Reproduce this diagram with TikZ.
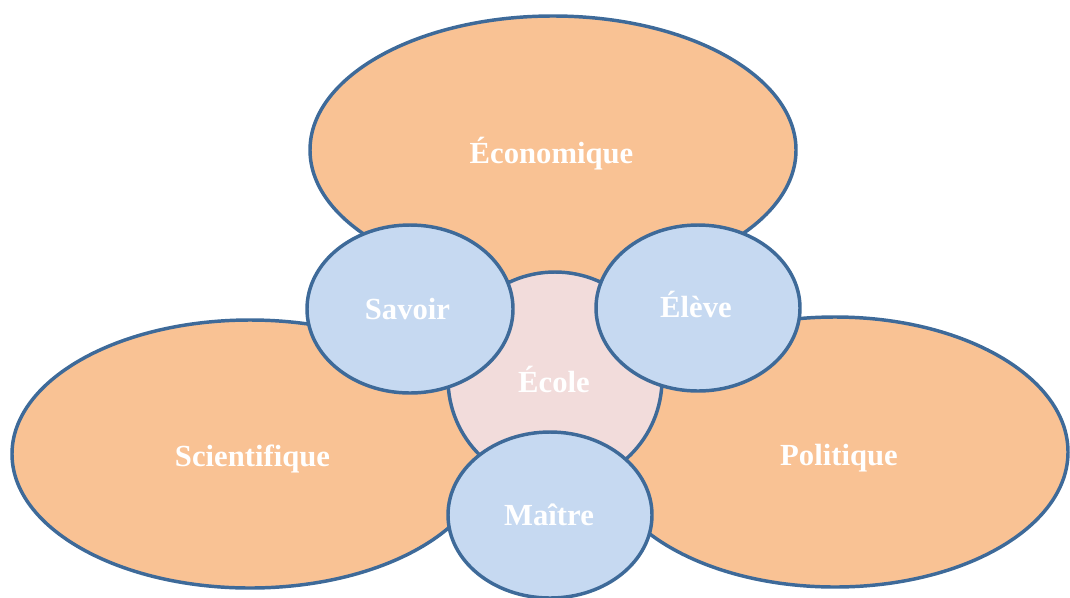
\documentclass[tikz,border=0pt]{standalone}
\usepackage{fontspec}
\setmainfont{Liberation Serif}
\usetikzlibrary{shapes.geometric}
\definecolor{orangefill}{HTML}{F9C294}
\definecolor{bluefill}{HTML}{C6D9F1}
\definecolor{pinkfill}{HTML}{F2DCDB}
\definecolor{edgeblue}{HTML}{3E6A99}
\tikzset{
  blob/.style={ellipse, draw=edgeblue, line width=2.6pt, inner sep=0pt},
  outer/.style={blob, fill=orangefill},
  inner/.style={blob, fill=bluefill},
  core/.style={blob, fill=pinkfill},
  txt/.style={anchor=base, inner sep=0pt, text=white, font=\fontsize{23}{27}\selectfont\bfseries}
}
\begin{document}
\begin{tikzpicture}[x=0.75pt,y=-0.75pt]
\useasboundingbox (0,0) rectangle (1070,597);
\node[outer, minimum width=364.5pt, minimum height=201pt] (eco) at (553,150) {};
\node[outer, minimum width=357pt, minimum height=201pt] (sci) at (250,454) {};
\node[outer, minimum width=349.5pt, minimum height=202.5pt] (pol) at (835,452) {};
\node[core, minimum width=160.5pt, minimum height=160.5pt] (ecole) at (555,379) {};
\node[inner, minimum width=154.5pt, minimum height=126pt] (savoir) at (410,309) {};
\node[inner, minimum width=153pt, minimum height=124.5pt] (eleve) at (698,308) {};
\node[inner, minimum width=153pt, minimum height=124.5pt] (maitre) at (550,515) {};
\node[txt] (teco) at (551.5,163) {Économique};
\node[txt] (tsci) at (252.5,466) {Scientifique};
\node[txt] (tpol) at (839,465) {Politique};
\node[txt] (tecole) at (554,392) {École};
\node[txt] (tsavoir) at (407.5,319) {Savoir};
\node[txt] (televe) at (696,317) {Élève};
\node[txt] (tmaitre) at (549,525) {Maître};
\end{tikzpicture}
\end{document}
